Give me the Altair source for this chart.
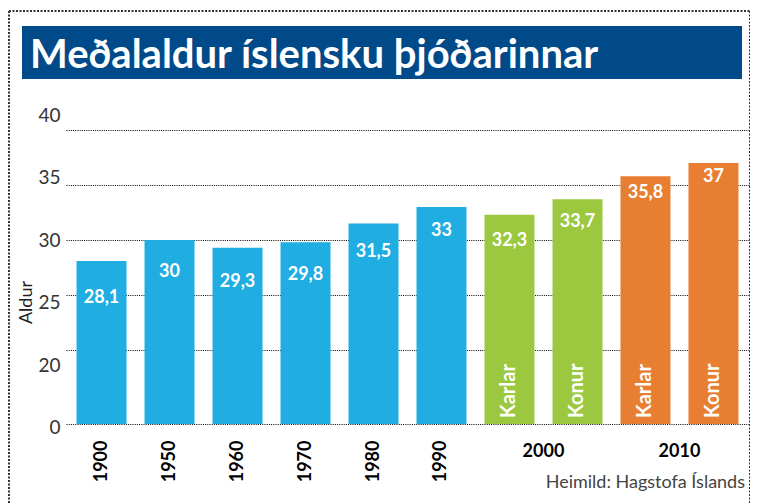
import altair as alt
import pandas as pd

# ---- data ----
years = ["1900", "1950", "1960", "1970", "1980", "1990", "2000", "2000", "2010", "2010"]
sexes = ["", "", "", "", "", "", "Karlar", "Konur", "Karlar", "Konur"]
ages = [28.1, 30, 29.3, 29.8, 31.5, 33, 32.3, 33.7, 35.8, 37]
periods = ["1900-1990"] * 6 + ["2000", "2000", "2010", "2010"]
y_ticks = [0, 20, 25, 30, 35, 40]
group_years = ["2000", "2010"]
title_text = "Meðalaldur íslensku þjóðarinnar"
source_text = "Heimild: Hagstofa Íslands"
y_title = "Aldur"

period_domain = ["1900-1990", "2000", "2010"]
period_colors = ["#1fade2", "#9bc83f", "#e87e31"]

keys = [(y + " " + s).strip() for y, s in zip(years, sexes)]
labels = [f"{a:g}".replace(".", ",") for a in ages]
df = pd.DataFrame(dict(key=keys, year=years, sex=sexes, age=ages,
                       period=periods, label=labels))
df_sex = df[df["sex"] != ""]
df_groups = pd.DataFrame(dict(key=[g + " Karlar" for g in group_years], lab=group_years))
one = pd.DataFrame({"a": [0]})

W, H = 683, 325
FONT = "Lato"
BASE = 13.27       # broken axis: where "0" sits on the bar scale
LABEL_BASE = 15    # where "0" sits on the tick-label scale

bar_scale = alt.Scale(domain=[12.727, 42.273], nice=False, zero=False)
label_scale = alt.Scale(domain=[14.84, 40.80], nice=False, zero=False)
value_scale = alt.Scale(domain=[18.38, 42.28], nice=False, zero=False)

x_enc = alt.X(
    "key:N",
    scale=alt.Scale(domain=keys, paddingInner=0.265, paddingOuter=0.155),
    axis=alt.Axis(
        title=None, labelExpr="indexof(datum.label, ' ') > 0 ? '' : datum.label",
        labelAngle=270, labelAlign="right", labelBaseline="middle",
        labelFont=FONT, labelFontSize=18, labelFontWeight="bold", labelColor="#000",
        labelPadding=10, ticks=False, domain=False, grid=False,
    ),
)

color_enc = alt.Color("period:N", scale=alt.Scale(domain=period_domain, range=period_colors), legend=None)

bars = alt.Chart(df).mark_bar().encode(
    x=x_enc,
    y=alt.Y("age:Q", scale=bar_scale, axis=alt.Axis(
        orient="left", values=[BASE if t == 0 else t for t in y_ticks],
        labels=False, ticks=False, domain=False, grid=True,
        gridDash=[1, 1.2], gridColor="#000", gridWidth=1.2, title=None)),
    y2=alt.Y2Datum(BASE),
    color=color_enc,
)

label_axis = alt.Chart(df).mark_point(opacity=0).encode(
    x=x_enc,
    y=alt.Y("age:Q", scale=label_scale, axis=alt.Axis(
        orient="left", values=[LABEL_BASE if t == 0 else t for t in y_ticks],
        labelExpr=f"datum.value < {LABEL_BASE + 1} ? '0' : datum.label",
        ticks=False, domain=False, grid=False, labelPadding=6,
        labelFont=FONT, labelFontSize=19, labelColor="#333",
        title=y_title, titleFont=FONT, titleFontSize=18, titleFontWeight="normal",
        titleColor="#222", titleAngle=270, titleAlign="center", titleBaseline="middle",
        titleX=-40, titleY=197)),
)

values_text = alt.Chart(df).mark_text(
    color="white", font=FONT, fontSize=18, fontWeight="bold", baseline="middle"
).encode(
    x=x_enc,
    y=alt.Y("age:Q", scale=value_scale, axis=None),
    text="label:N",
)

sex_text = alt.Chart(df_sex).mark_text(
    color="white", font=FONT, fontSize=20, fontWeight="bold",
    angle=270, align="left", baseline="middle", dx=6,
).encode(
    x=x_enc,
    y=alt.YDatum(BASE, scale=bar_scale, axis=None),
    text="sex:N",
)

group_text = alt.Chart(df_groups).mark_text(
    color="#000", font=FONT, fontSize=18, fontWeight="bold", baseline="middle", dx=34,
).encode(
    x=x_enc,
    y=alt.value(347),
    text="lab:N",
)

band = alt.Chart(one).mark_rect(color="#004a8a").encode(
    x=alt.value(-44), x2=alt.value(676), y=alt.value(-79), y2=alt.value(-26))

title = alt.Chart(one).mark_text(
    text=title_text, color="white", font=FONT, fontSize=40, fontWeight="bold",
    align="left", baseline="alphabetic",
).encode(x=alt.value(-36), y=alt.value(-37))

border_style = dict(color="#333", strokeWidth=2, strokeDash=[2, 1.5])
left_rule = alt.Chart(one).mark_rule(**border_style).encode(
    x=alt.value(-57), y=alt.value(-94), y2=alt.value(420))
right_rule = alt.Chart(one).mark_rule(**border_style).encode(
    x=alt.value(684), y=alt.value(-94), y2=alt.value(420))
top_rule = alt.Chart(one).mark_rule(**border_style).encode(
    x=alt.value(-57), x2=alt.value(684), y=alt.value(-94))

source = alt.Chart(one).mark_text(
    text=source_text, color="#444", font=FONT, fontSize=18,
    align="right", baseline="alphabetic",
).encode(x=alt.value(679), y=alt.value(383))

chart = alt.layer(
    bars, label_axis, values_text, sex_text, group_text,
    band, title, left_rule, right_rule, top_rule, source,
).resolve_scale(y="independent").properties(
    width=W, height=H,
    autosize=alt.AutoSizeParams(type="none"),
    padding={"left": 58, "top": 97, "right": 1, "bottom": 73},
    background="white",
).configure_view(stroke=None)

chart.save("out.html", embed_options={"renderer": "svg", "actions": False})
